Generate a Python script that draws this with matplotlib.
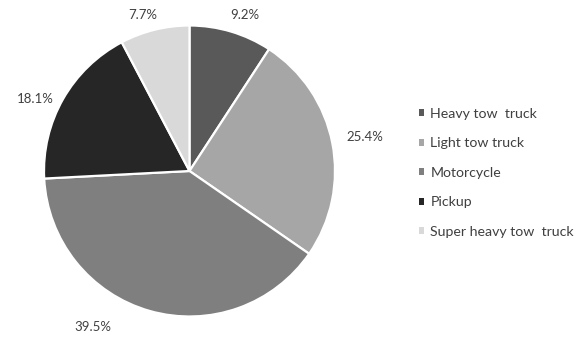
import numpy as np
import matplotlib
matplotlib.use("Agg")
import matplotlib.pyplot as plt

categories = ["Heavy tow  truck", "Light tow truck", "Motorcycle", "Pickup", "Super heavy tow  truck"]
values = [9.2, 25.4, 39.5, 18.1, 7.7]
labels = ["9.2%", "25.4%", "39.5%", "18.1%", "7.7%"]
colors = ["#595959", "#a6a6a6", "#7f7f7f", "#262626", "#d9d9d9"]

# label placement style (distance factor, angle tweak in degrees)
label_dist = [1.14, 1.23, 1.26, 1.17, 1.12]
label_dang = [-3.0, 0.0, -16.0, 4.5, 2.7]

plt.rcParams['font.family'] = ['Lato', 'DejaVu Sans']

W, H = 583, 339
fig = plt.figure(figsize=(W / 100, H / 100), dpi=100)
cx, cy, r = 189.5, 171, 145.5
ax = fig.add_axes([(cx - r) / W, (H - cy - r) / H, 2 * r / W, 2 * r / H])

wedges, _ = ax.pie(values, colors=colors, startangle=90, counterclock=False,
                   wedgeprops=dict(edgecolor="white", linewidth=1.6))
ax.set_xlim(-1, 1)
ax.set_ylim(-1, 1)
ax.set_aspect("equal")
ax.axis("off")

for w, lab, d, da in zip(wedges, labels, label_dist, label_dang):
    ang = np.deg2rad((w.theta1 + w.theta2) / 2 + da)
    ax.text(d * np.cos(ang), d * np.sin(ang), lab, ha="center", va="center",
            fontsize=9.5, color="#404040", clip_on=False)

leg = fig.legend(wedges, categories, loc="upper left",
                 bbox_to_anchor=(419 / W, 1 - 108 / H), frameon=False,
                 borderpad=0, borderaxespad=0,
                 fontsize=10.2, handlelength=0.38, handleheight=0.38,
                 handletextpad=0.42, labelspacing=1.23, labelcolor="#404040")
for h in leg.legend_handles:
    h.set_edgecolor("none")

fig.savefig("out.png", dpi=100, facecolor="white")
